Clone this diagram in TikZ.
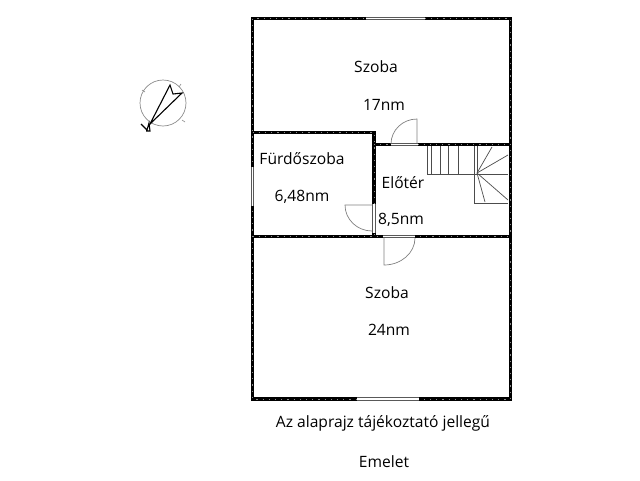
\documentclass[tikz,border=0pt]{standalone}
\usepackage{fontspec}
\setmainfont{Open Sans}
\tikzset{
    wall/.style={line width=3.8pt, draw=black, postaction={draw=white!55!black, line width=0.8pt, dash pattern=on 1.2pt off 5pt}},
    opening/.style={line width=3.8pt, draw=black!65!white, postaction={draw=white, line width=1.8pt}},
    leaf/.style={line width=0.7pt, draw=black!50!white},
    stair/.style={line width=0.7pt, draw=black!70!white},
    label/.style={font=\fontsize{15.6}{18}\selectfont, text=black}
}
\begin{document}
\begin{tikzpicture}[x=1pt, y=-1pt]

        \useasboundingbox (0,0) rectangle (640,480);

        % outer walls and partitions
        \draw[wall] (252.5,18.5) rectangle (510.5,399);
        \draw[wall] (252.5,132.5) -- (374,132.5) -- (374,236.5);
        \draw[wall] (374,144.5) -- (510.5,144.5);
        \draw[wall] (252.5,236.5) -- (510.5,236.5);

        % windows
        \draw[opening] (366,18.5) -- (425,18.5);
        \draw[opening] (357,399) -- (419,399);
        \draw[opening] (252.5,167) -- (252.5,206);

        % doors
        \draw[opening] (391,144.5) -- (418,144.5);
        \draw[leaf] (417,143) -- (417,119) arc (270:180:26 and 25);
        \draw[opening] (383,236.5) -- (415,236.5);
        \draw[leaf] (384,238) -- (384,265) arc (90:0:31 and 27);
        \draw[opening] (374,204) -- (374,233);
        \draw[leaf] (372,205) -- (345,205) arc (180:90:27 and 26);

        % stairs
        \draw[stair] (427,146) -- (427,174) -- (508,174);
        \draw[stair] (431,146) -- (431,174);
        \draw[stair] (440,146) -- (440,174);
        \draw[stair] (448,146) -- (448,174);
        \draw[stair] (458,146) -- (458,174);
        \draw[stair] (474,146) -- (474,203) -- (508,203);
        \draw[stair] (477,146) -- (477,173);
        \coordinate (turn) at (477,173);
        \foreach \tx/\ty in {492/147, 508/155, 508/200, 485/202} {
            \draw[stair] (turn) -- (\tx,\ty);
        }

        % compass
        \draw[line width=0.7pt, draw=black!45!white] (163,103) circle (23);
        \draw[line width=0.6pt, draw=black!45!white] (142,90) -- (145,92);
        \draw[line width=0.6pt, draw=black!45!white] (179,87) -- (181,84);
        \draw[line width=0.6pt, draw=black!45!white] (182,120) -- (185,122);
        \draw[line width=1.1pt] (150,124) -- (170,85) -- (173,94) -- (182,93) -- cycle;
        \draw[line width=1.1pt] (141,124) -- (147,130) -- (149,123) -- (150,131) -- (146,131);

        % labels
        \node[label] (upperroom) at (376,67) {Szoba};
        \node[label] (upperarea) at (384,105) {17nm};
        \node[label] (bathroom) at (302,159) {Fürdőszoba};
        \node[label] (batharea) at (302,197) {6,48nm};
        \node[label] (hall) at (403,183) {Előtér};
        \node[label] (hallarea) at (401,220) {8,5nm};
        \node[label] (lowerroom) at (387,293) {Szoba};
        \node[label] (lowerarea) at (389,330) {24nm};
        \node[label] (note) at (383,423) {Az alaprajz tájékoztató jellegű};
        \node[label] (floor) at (384,462) {Emelet};

    \end{tikzpicture}
\end{document}
